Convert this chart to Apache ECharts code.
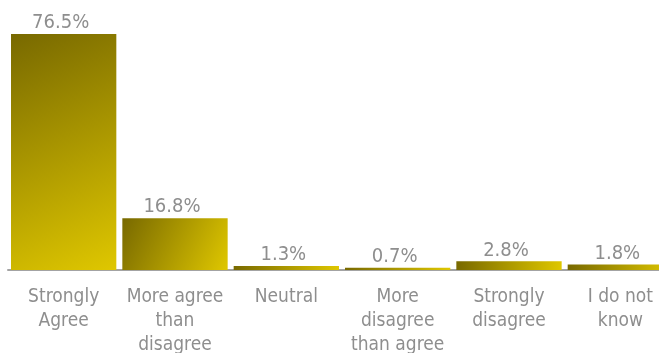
<!DOCTYPE html>
<html>
<head>
<meta charset="utf-8">
<script src="https://cdn.jsdelivr.net/npm/echarts@6/dist/echarts.min.js"></script>
<style>
  html, body { margin: 0; padding: 0; background: #ffffff; }
  #chart { width: 659px; height: 353px; }
</style>
</head>
<body>
<div id="chart"></div>
<script>
// Survey responses, share of respondents (%)
const categories = [
  'Strongly\nAgree',
  'More agree\nthan\ndisagree',
  'Neutral',
  'More\ndisagree\nthan agree',
  'Strongly\ndisagree',
  'I do not\nknow'
];
const shares = [76.5, 16.8, 1.3, 0.7, 2.8, 1.8];

const textColor = '#8e8e8e';
const fontFamily = '"DejaVu Sans Condensed", "DejaVu Sans", sans-serif';

// Diagonal olive-to-gold fill, dark at top-left, bright at bottom-right
const barFill = new echarts.graphic.LinearGradient(0, 0, 1, 1, [
  { offset: 0, color: '#786900' },
  { offset: 1, color: '#dfc700' }
]);

const chart = echarts.init(document.getElementById('chart'), null, { renderer: 'canvas' });
chart.setOption({
  animation: false,
  backgroundColor: '#ffffff',
  grid: {
    left: 8, top: 34, width: 668, height: 236,
    containLabel: false,
    outerBoundsMode: 'none'
  },
  xAxis: {
    type: 'category',
    data: categories,
    axisLine: { show: true, lineStyle: { color: '#a3a3a3', width: 2 } },
    axisTick: { show: false },
    axisLabel: {
      color: textColor,
      fontFamily: fontFamily,
      fontSize: 19,
      lineHeight: 24,
      margin: 15,
      interval: 0
    }
  },
  yAxis: {
    type: 'value',
    min: 0,
    max: 76.5,
    show: false
  },
  series: [{
    type: 'bar',
    data: shares,
    barCategoryGap: '5.4%',
    itemStyle: { color: barFill },
    label: {
      show: true,
      position: 'top',
      distance: 1,
      offset: [-3, 0],
      color: textColor,
      fontFamily: fontFamily,
      fontSize: 20,
      formatter: p => p.value.toFixed(1) + '%'
    }
  }]
});
</script>
</body>
</html>
